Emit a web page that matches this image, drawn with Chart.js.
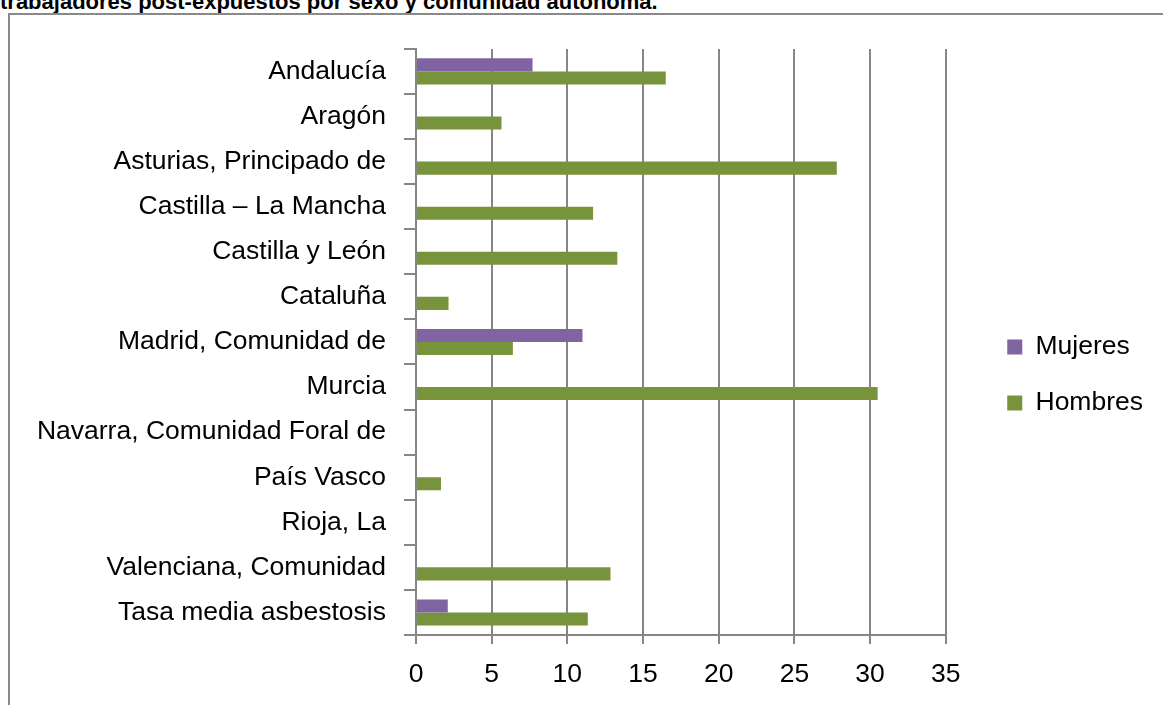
<!DOCTYPE html>
<html>
<head>
<meta charset="utf-8">
<script src="https://cdn.jsdelivr.net/npm/chart.js@4/dist/chart.umd.min.js"></script>
<style>
    html, body { margin: 0; padding: 0; background: #fff; overflow: hidden; }
    #title {
        position: absolute; left: 0; top: -11px;
        font: bold 22px "Liberation Sans", Arial, sans-serif;
        color: #000; white-space: nowrap;
    }
    #frame {
        position: absolute; left: 8px; top: 13px;
        width: 1200px; height: 720px;
        border: 2px solid #898989; box-sizing: border-box;
    }
    #wrap { position: absolute; left: 10px; top: 15px; width: 1153px; height: 690px; }
</style>
</head>
<body>
<div id="title">trabajadores post-expuestos por sexo y comunidad autónoma.</div>
<div id="frame"></div>
<div id="wrap"><canvas id="barChart"></canvas></div>
<script>
const categories = [
    'Andalucía', 'Aragón', 'Asturias, Principado de', 'Castilla – La Mancha',
    'Castilla y León', 'Cataluña', 'Madrid, Comunidad de', 'Murcia',
    'Navarra, Comunidad Foral de', 'País Vasco', 'Rioja, La',
    'Valenciana, Comunidad', 'Tasa media asbestosis'
];
const mujeres = [7.7, null, null, null, null, null, 11.0, null, null, null, null, null, 2.1];
const hombres = [16.5, 5.65, 27.8, 11.7, 13.3, 2.15, 6.4, 30.5, null, 1.65, null, 12.85, 11.35];
const xTicks = [0, 5, 10, 15, 20, 25, 30, 35];

const gray = '#868686';
const labelFont = { family: '"Liberation Sans", Arial, sans-serif', size: 26.5 };

// push the legend away from the plot, like the original spreadsheet layout
const legendGap = 32;
const legendShift = {
    id: 'legendShift',
    beforeLayout(chart) {
        const lg = chart.legend;
        if (!lg || lg._shifted) return;
        const fit = lg.fit.bind(lg);
        const draw = lg.draw.bind(lg);
        lg.fit = function () { fit(); this.width += legendGap; };
        lg.draw = function (area) {
            this.left += legendGap;
            draw(area);
            this.left -= legendGap;
        };
        lg._shifted = true;
    }
};

new Chart(document.getElementById('barChart').getContext('2d'), {
    type: 'bar',
    data: {
        labels: categories,
        datasets: [
            { label: 'Mujeres', data: mujeres, backgroundColor: '#8064A2' },
            { label: 'Hombres', data: hombres, backgroundColor: '#77933C' }
        ]
    },
    plugins: [legendShift],
    options: {
        indexAxis: 'y',
        responsive: true,
        maintainAspectRatio: false,
        animation: false,
        datasets: { bar: { categoryPercentage: 0.58, barPercentage: 1.0 } },
        layout: { padding: { top: 30, right: 10, left: 0, bottom: 0 } },
        plugins: {
            title: { display: false },
            tooltip: { enabled: false },
            legend: {
                position: 'right',
                labels: {
                    font: labelFont,
                    color: '#000',
                    boxWidth: 15,
                    boxHeight: 15,
                    padding: 29.5
                }
            }
        },
        scales: {
            x: {
                min: 0,
                max: 35,
                afterBuildTicks: axis => { axis.ticks = xTicks.map(v => ({ value: v })); },
                afterFit: axis => { axis.height = 70; },
                grid: { color: gray, lineWidth: 2, tickLength: 9, drawTicks: true },
                border: { color: gray, width: 2 },
                ticks: { font: labelFont, color: '#000', padding: 15 }
            },
            y: {
                afterFit: axis => { axis.width = 406; },
                grid: { offset: true, drawOnChartArea: false, color: gray, lineWidth: 2, tickLength: 12 },
                border: { color: gray, width: 2 },
                ticks: { font: labelFont, color: '#000', padding: 18, autoSkip: false }
            }
        }
    }
});
</script>
</body>
</html>
